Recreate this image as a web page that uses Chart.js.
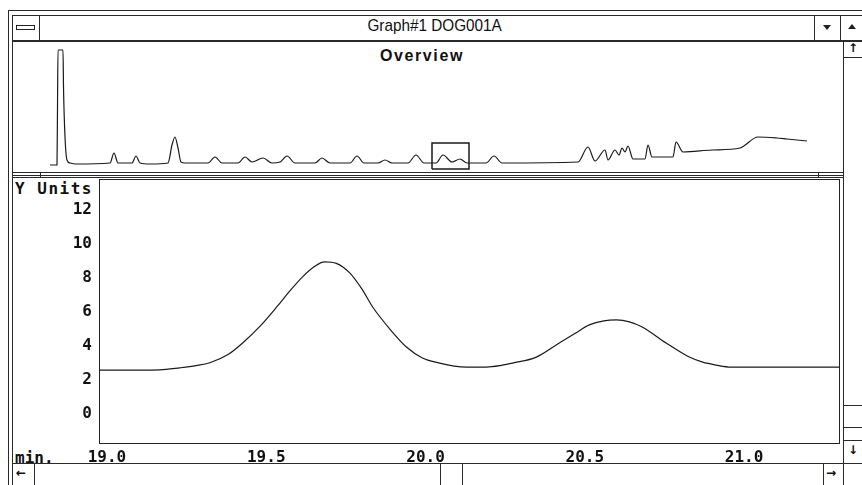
<!DOCTYPE html>
<html>
<head>
<meta charset="utf-8">
<script src="https://cdn.jsdelivr.net/npm/chart.js@4.4.1/dist/chart.umd.min.js"></script>
<style>
  html, body { margin: 0; padding: 0; background: #fff; }
  body { width: 862px; height: 485px; position: relative; overflow: hidden; font-family: "Liberation Sans", Arial, sans-serif; color: #111; }
  .ln { position: absolute; background: #2a2a2a; }
  .txt { position: absolute; white-space: nowrap; }
  .mono { font-family: "DejaVu Sans Mono", monospace; font-weight: bold; font-size: 16px; }
  canvas { position: absolute; }
</style>
</head>
<body>
<div id="chrome"></div>

<div class="txt" style="left:40px; width:774px; top:16px; text-align:center; font-size:17px; line-height:20px; transform:scaleX(0.9); padding-left:8px;">Graph#1 DOG001A</div>
<div class="txt" style="left:380px; top:47px; font-size:16px; font-weight:bold; letter-spacing:1.6px;">Overview</div>
<div class="txt mono" style="left:15px; top:179px; letter-spacing:1.5px;">Y Units</div>
<div class="txt mono" style="left:15px; top:448px;">min.</div>

<canvas id="overview" width="780" height="127" style="left:40px; top:45px;"></canvas>
<canvas id="main" width="831" height="286" style="left:12px; top:179px;"></canvas>

<script>
// main trace (minutes, Y units)
const mainTime = [18.975, 19.10, 19.166, 19.229, 19.28, 19.323, 19.38, 19.426, 19.48, 19.533,
  19.575, 19.614, 19.65, 19.683, 19.72, 19.762, 19.80, 19.834, 19.89, 19.94,
  19.99, 20.044, 20.09, 20.129, 20.191, 20.235, 20.273, 20.348, 20.42, 20.47,
  20.514, 20.56, 20.599, 20.64, 20.68, 20.755, 20.828, 20.87, 20.912, 20.959,
  21.10, 21.301];
const mainSignal = [2.59, 2.59, 2.60, 2.72, 2.85, 3.02, 3.5, 4.18, 5.15, 6.29,
  7.25, 8.06, 8.65, 8.94, 8.85, 8.29, 7.35, 6.29, 4.95, 3.94,
  3.3, 3.0, 2.82, 2.76, 2.76, 2.85, 3.0, 3.35, 4.18, 4.75,
  5.24, 5.48, 5.53, 5.42, 5.12, 4.18, 3.35, 3.05, 2.88, 2.76,
  2.76, 2.76];
const xTicks = [19.0, 19.5, 20.0, 20.5, 21.0];
const yTicks = [0, 2, 4, 6, 8, 10, 12];

// overview trace (whole run)
const overviewTime = [0, 0.35, 0.375, 0.4, 0.65, 0.675, 0.75, 0.85, 1.0, 1.3,
  3.0, 3.2, 3.4, 4.1, 4.3, 4.5, 5.0, 5.9, 6.1, 6.25,
  6.4, 6.55, 6.75, 7.9, 8.25, 8.6, 9.4, 9.75, 10.1, 10.65,
  11.1, 11.5, 11.85, 12.25, 13.25, 13.6, 14.0, 15.0, 15.35, 15.7,
  16.4, 16.75, 17.1, 17.9, 18.3, 18.7, 19.3, 19.65, 20.1, 20.5,
  20.85, 21.8, 22.2, 22.6, 26.4, 26.9, 27.25, 27.75, 27.9, 28.25,
  28.45, 28.6, 28.75, 28.9, 29.15, 29.75, 29.9, 30.1, 31.15, 31.3,
  31.65, 33.1, 34.5, 35.4, 36.35, 36.85, 37.85];
const overviewSignal = [7, 7, 64, 122, 122, 85, 35, 12, 9, 8,
  9, 19, 9, 9, 16, 9, 8, 9, 27, 35,
  24, 10, 9, 9, 15, 9, 9, 15, 10, 14,
  9, 10, 16, 9, 9, 14, 9, 9, 16, 9,
  9, 12, 9, 9, 17, 9, 9, 17, 10, 13,
  9, 9, 16, 9, 10, 25, 11, 22, 12, 22,
  17, 24, 20, 26, 13, 13, 27, 15, 15, 30,
  20, 22, 24, 35, 34, 33, 31];
const zoomBoxTime = [19.1, 19.1, 20.95, 20.95, 19.1];
const zoomBoxSignal = [3, 29, 29, 3, 3];

// window chrome lines: [left, top, width, height]
const chromeLines = [
  [8, 10, 854, 1], [8, 10, 1, 475], [12, 15, 850, 1], [12, 15, 1, 470],
  [12, 40, 850, 2], [39, 15, 1, 25], [814, 15, 1, 25], [840, 15, 1, 25],
  [843, 42, 1, 443], [843, 57, 19, 1], [843, 405, 19, 1], [843, 427, 19, 1], [843, 440, 19, 1],
  [12, 172, 831, 1], [40, 172, 1, 5], [818, 172, 1, 5], [12, 175, 831, 1], [12, 177, 831, 1],
  [12, 463, 850, 1], [34, 463, 1, 22], [440, 463, 1, 22], [462, 463, 1, 22], [823, 463, 1, 22]
];
const chrome = document.getElementById("chrome");
chromeLines.forEach(([l, t, w, h]) => {
  const d = document.createElement("div");
  d.className = "ln";
  d.style.cssText = `left:${l}px;top:${t}px;width:${w}px;height:${h}px`;
  chrome.appendChild(d);
});
// small glyphs: system menu bar, triangles, arrows
chrome.innerHTML += `
  <div style="position:absolute;left:16px;top:25px;width:17px;height:3px;border:1px solid #222;"></div>
  <div style="position:absolute;left:823px;top:25px;width:0;height:0;border-left:4px solid transparent;border-right:4px solid transparent;border-top:5px solid #222;"></div>
  <div style="position:absolute;left:848px;top:24px;width:0;height:0;border-left:4px solid transparent;border-right:4px solid transparent;border-bottom:5px solid #222;"></div>
  <div class="txt" style="left:848px;top:41px;font:bold 12px 'DejaVu Sans';">&#8593;</div>
  <div class="txt" style="left:848px;top:443px;font:bold 12px 'DejaVu Sans';">&#8595;</div>
  <div class="txt" style="left:16px;top:466px;font:bold 12px 'DejaVu Sans';">&#8592;</div>
  <div class="txt" style="left:826px;top:466px;font:bold 12px 'DejaVu Sans';">&#8594;</div>
`;

const boxPlugin = {
  id: "plotBox",
  afterDraw(chart) {
    const { ctx, chartArea: a } = chart;
    ctx.save();
    ctx.strokeStyle = "#222";
    ctx.lineWidth = 1;
    ctx.strokeRect(a.left + 0.5, a.top + 0.5, a.right - a.left - 1, a.bottom - a.top - 1);
    ctx.restore();
  }
};

const monoFont = { family: "'DejaVu Sans Mono', monospace", size: 16, weight: "bold" };

function noPad(s) {
  s.paddingTop = 0;
  s.paddingBottom = 0;
  s.paddingLeft = 0;
  s.paddingRight = 0;
}

new Chart(document.getElementById("main"), {
  type: "line",
  data: {
    datasets: [{
      data: mainTime.map((t, i) => ({ x: t, y: mainSignal[i] })),
      borderColor: "#1a1a1a",
      borderWidth: 1.2,
      pointRadius: 0,
      cubicInterpolationMode: "monotone",
      fill: false
    }]
  },
  options: {
    responsive: false,
    devicePixelRatio: 1,
    animation: false,
    layout: { padding: { top: 0, right: 3, bottom: 0, left: 0 } },
    plugins: { legend: { display: false }, tooltip: { enabled: false } },
    scales: {
      x: {
        type: "linear",
        min: 18.975,
        max: 21.301,
        grid: { display: false, drawTicks: false },
        border: { display: false },
        afterBuildTicks: s => { s.ticks = xTicks.map(v => ({ value: v })); },
        afterFit: s => { s.height = 21; noPad(s); },
        ticks: { color: "#111", font: monoFont, padding: 4, maxRotation: 0, autoSkip: false,
          callback: v => Number(v).toFixed(1) }
      },
      y: {
        min: -1.75,
        max: 13.8,
        grid: { display: false, drawTicks: false },
        border: { display: false },
        afterBuildTicks: s => { s.ticks = yTicks.map(v => ({ value: v })); },
        afterFit: s => { s.width = 87; noPad(s); },
        ticks: { color: "#111", font: monoFont, padding: 7 }
      }
    }
  },
  plugins: [boxPlugin]
});

new Chart(document.getElementById("overview"), {
  type: "line",
  data: {
    datasets: [{
      data: overviewTime.map((t, i) => ({ x: t, y: overviewSignal[i] })),
      borderColor: "#1a1a1a",
      borderWidth: 1.2,
      pointRadius: 0,
      cubicInterpolationMode: "monotone",
      fill: false
    }, {
      data: zoomBoxTime.map((t, i) => ({ x: t, y: zoomBoxSignal[i] })),
      borderColor: "#1a1a1a",
      borderWidth: 1.5,
      pointRadius: 0,
      tension: 0,
      fill: false
    }]
  },
  options: {
    responsive: false,
    devicePixelRatio: 1,
    animation: false,
    layout: { padding: 0 },
    plugins: { legend: { display: false }, tooltip: { enabled: false } },
    scales: {
      x: { type: "linear", min: -0.5, max: 38.5, display: false },
      y: { min: 0, max: 127, display: false }
    }
  }
});
</script>
</body>
</html>
